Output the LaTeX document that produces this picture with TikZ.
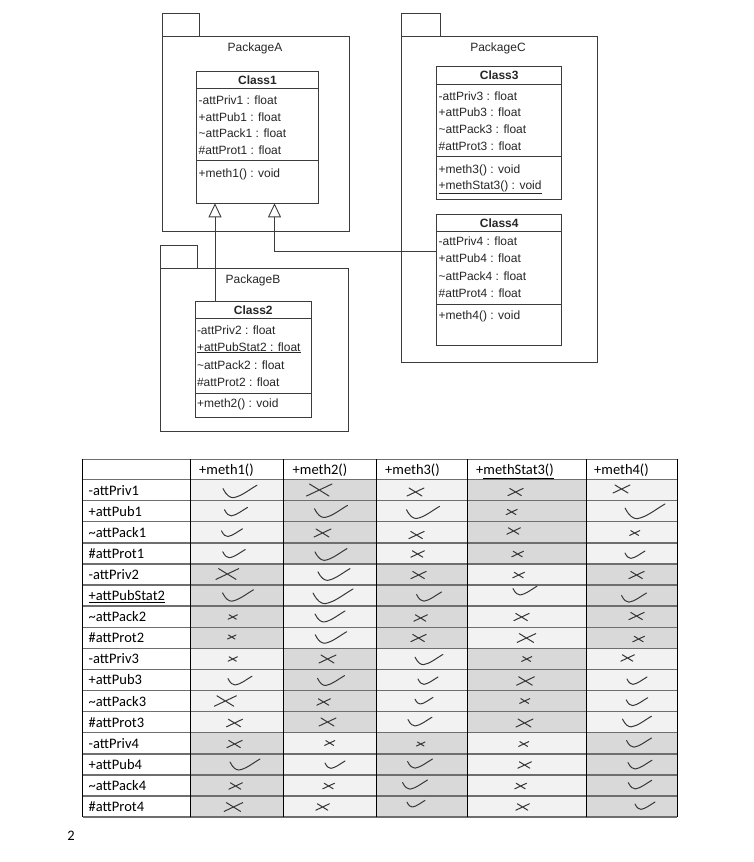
\documentclass[tikz,border=0pt]{standalone}
\usepackage{fontspec}
\setmainfont{Carlito}
\newfontfamily\umlfont{Liberation Sans}
\usetikzlibrary{arrows.meta}

\definecolor{umlline}{RGB}{60,60,60}
\definecolor{cellA}{RGB}{242,242,242}
\definecolor{cellB}{RGB}{217,217,217}
\definecolor{rulegray}{RGB}{110,110,110}
\definecolor{pen}{RGB}{55,55,55}

\tikzset{
  pkgbox/.style={draw=umlline, line width=0.9pt, inner sep=0pt, outer sep=0pt},
  classbox/.style={draw=umlline, line width=0.9pt, inner sep=0pt, outer sep=0pt},
  sepline/.style={draw=umlline, line width=0.9pt},
  umltext/.style={font=\umlfont\fontsize{12}{14}\selectfont, inner sep=0pt, text=black!85},
  attr/.style={umltext, anchor=base west},
  cname/.style={umltext, font=\umlfont\bfseries\fontsize{12}{14}\selectfont, anchor=base},
  pname/.style={umltext, anchor=base},
  gen/.style={draw=umlline, line width=0.9pt,
    -{Triangle[open, length=14pt, width=13pt, fill=white]}},
  tabtext/.style={font=\fontsize{14.5}{17}\selectfont, inner sep=0pt, anchor=base west},
  hrule/.style={draw=rulegray, line width=1.4pt},
  vrule/.style={draw=black, line width=0.9pt},
  mk/.style={draw=pen, line width=1pt, line cap=round, line join=round},
  ck/.pic={\draw[mk] (-15,-3) .. controls (-12,3) and (-9,5) .. (-6,5)
            .. controls (1,4) and (8,-2) .. (15,-6);},
  xx/.pic={\draw[mk] (-7,-4) -- (6,4) (-9,4) -- (8,-4);}
}

\begin{document}
\begin{tikzpicture}[x=1pt, y=-1pt]
\useasboundingbox (0,0) rectangle (753,862);

% ---------- packages ----------
\node[pkgbox, minimum width=187.5pt, minimum height=194.8pt, anchor=north west] (pkgA) at (162,36.7) {};
\node[pkgbox, minimum width=37.5pt, minimum height=23.4pt, anchor=south west] (tabA) at (pkgA.north west) {};
\node[pname] (lblA) at (255,51) {PackageA};

\node[pkgbox, minimum width=188.3pt, minimum height=163.4pt, anchor=north west] (pkgB) at (160,268.3) {};
\node[pkgbox, minimum width=37.7pt, minimum height=23.3pt, anchor=south west] (tabB) at (pkgB.north west) {};
\node[pname] (lblB) at (253,283) {PackageB};

\node[pkgbox, minimum width=196.3pt, minimum height=325.3pt, anchor=north west] (pkgC) at (401,36.7) {};
\node[pkgbox, minimum width=39pt, minimum height=23.4pt, anchor=south west] (tabC) at (pkgC.north west) {};
\node[pname] (lblC) at (498,51.5) {PackageC};

% ---------- Class1 ----------
\node[classbox, fill=white, minimum width=121.6pt, minimum height=132.3pt, anchor=north west] (c1) at (196.7,71) {};
\node[cname] (c1n) at (257.5,84) {Class1};
\draw[sepline] (c1.west |- 0,88) -- (c1.east |- 0,88);
\node[attr] (c1a) at (198.5,104.3) {-attPriv1 : float};
\node[attr] (c1b) at (198.5,121) {+attPub1 : float};
\node[attr] (c1c) at (198.5,137.7) {\textasciitilde attPack1 : float};
\node[attr] (c1d) at (198.5,154.4) {\#attProt1 : float};
\draw[sepline] (c1.west |- 0,160) -- (c1.east |- 0,160);
\node[attr] (c1m) at (198.5,177.5) {+meth1() : void};

% ---------- Class2 ----------
\node[classbox, fill=white, minimum width=116.7pt, minimum height=115.3pt, anchor=north west] (c2) at (195,301.7) {};
\node[cname] (c2n) at (253.3,314.3) {Class2};
\draw[sepline] (c2.west |- 0,318.3) -- (c2.east |- 0,318.3);
\node[attr] (c2a) at (196.8,334.3) {-attPriv2 : float};
\node[attr] (c2b) at (196.8,351) {\underline{+attPubStat2 : float}};
\node[attr] (c2c) at (196.8,369.3) {\textasciitilde attPack2 : float};
\node[attr] (c2d) at (196.8,386) {\#attProt2 : float};
\draw[sepline] (c2.west |- 0,393.3) -- (c2.east |- 0,393.3);
\node[attr] (c2m) at (196.8,407.6) {+meth2() : void};

% ---------- Class3 ----------
\node[classbox, fill=white, minimum width=125pt, minimum height=133.3pt, anchor=north west] (c3) at (436.7,66) {};
\node[cname] (c3n) at (499.2,79.3) {Class3};
\draw[sepline] (c3.west |- 0,84) -- (c3.east |- 0,84);
\node[attr] (c3a) at (438.5,100.3) {-attPriv3 : float};
\node[attr] (c3b) at (438.5,116.6) {+attPub3 : float};
\node[attr] (c3c) at (438.5,133.3) {\textasciitilde attPack3 : float};
\node[attr] (c3d) at (438.5,150.3) {\#attProt3 : float};
\draw[sepline] (c3.west |- 0,156.7) -- (c3.east |- 0,156.7);
\node[attr] (c3m) at (438.5,173.6) {+meth3() : void};
\node[attr] (c3s) at (438.5,189.6) {\underline{+methStat3() : void}};

% ---------- Class4 ----------
\node[classbox, fill=white, minimum width=125pt, minimum height=131pt, anchor=north west] (c4) at (436.7,214) {};
\node[cname] (c4n) at (499.2,227) {Class4};
\draw[sepline] (c4.west |- 0,231.7) -- (c4.east |- 0,231.7);
\node[attr] (c4a) at (438.5,245.3) {-attPriv4 : float};
\node[attr] (c4b) at (438.5,262.6) {+attPub4 : float};
\node[attr] (c4c) at (438.5,280) {\textasciitilde attPack4 : float};
\node[attr] (c4d) at (438.5,297.6) {\#attProt4 : float};
\draw[sepline] (c4.west |- 0,304) -- (c4.east |- 0,304);
\node[attr] (c4m) at (438.5,319.5) {+meth4() : void};

% ---------- generalisations ----------
\coordinate (h1) at (215,203.3);
\coordinate (h2) at (274.5,203.3);
\coordinate (k4) at (436.7,251.7);
\draw[gen] (c2.north -| h1) -- (h1);
\draw[gen] (k4) -| (h2);

% ---------- table: cell shading ----------
\foreach \xa/\xb [count=\j from 0] in {190/283.3, 283.3/376.7, 376.7/467.7, 467.7/586, 586/677.3}{
  \foreach \b in {0,1,2,3}{
    \pgfmathtruncatemacro{\shd}{mod(\b+\j,2)}
    \pgfmathsetmacro{\ya}{479.5+84.4*\b}
    \pgfmathsetmacro{\yb}{\ya+84.4}
    \ifnum\shd=1
      \fill[cellB] (\xa,\ya) rectangle (\xb,\yb);
    \else
      \fill[cellA] (\xa,\ya) rectangle (\xb,\yb);
    \fi
  }
}

% ---------- table: rules ----------
\draw[hrule] (82.7,459.3) -- (677.3,459.3);
\foreach \r in {0,...,16}{
  \draw[hrule] (82.7,479.5+21.1*\r) -- (677.3,479.5+21.1*\r);
}
\foreach \x in {82.7,190,283.3,376.7,467.7,586,677.3}{
  \draw[vrule] (\x,459.3) -- (\x,817.1);
}

% ---------- table: header ----------
\node[tabtext] (hm1) at (199,474.5) {+meth1()};
\node[tabtext] (hm2) at (292.5,474.5) {+meth2()};
\node[tabtext] (hm3) at (385,474.5) {+meth3()};
\node[tabtext] (hm4) at (476,474.5) {+\underline{methStat3()}};
\node[tabtext] (hm5) at (594,474.5) {+meth4()};

% ---------- table: row labels ----------
\foreach \t [count=\i] in {-attPriv1, +attPub1, \textasciitilde attPack1, \#attProt1,
  -attPriv2, \underline{+attPubStat2}, \textasciitilde attPack2, \#attProt2,
  -attPriv3, +attPub3, \textasciitilde attPack3, \#attProt3,
  -attPriv4, +attPub4, \textasciitilde attPack4, \#attProt4}{
  \node[tabtext] (row\i) at (88.5,479.5+21.1*\i-10.55+5) {\t};
}

% ---------- ticks ----------
\foreach \px/\py/\ps in {
  240/492/1.13,
  236/512/0.77, 331/512/1.1, 423/513/1.1, 645/512/1.33,
  232/533/0.7,
  234/554/0.75, 331/555/1.07, 635/555/0.67,
  334/575/1.07,
  238/596/1.03, 333/597/1.33, 429/597/0.83, 525/591/0.8, 634/598/0.83,
  330/617/1.0,
  331/638/1.05,
  429/660/0.93,
  240/681/0.8, 331/681/0.9, 428/681/0.67, 637/681/0.67,
  424/701/0.6, 637/702/0.72,
  420/722/0.8, 637/722/0.97,
  639/743/0.83,
  245/765/1.0, 335/765/0.67, 420/764/0.83, 640/765/0.8,
  415/785/0.83, 640/785/0.78,
  416/804/0.6, 645/806/0.67}{
  \pic[scale=\ps] at (\px,\py) {ck};
}

% ---------- crosses ----------
\foreach \px/\py/\ps in {
  320/490/1.5, 416/492/1.0, 516/492/0.9, 622/489/1.0,
  512/512/0.65,
  323/533/1.0, 417/535/0.9, 514/531/0.8, 635/533/0.6,
  418/554/0.8, 518/554/0.7,
  228/574/1.35, 419/575/0.9, 519/575/0.7, 637/575/0.9,
  233/617/0.55, 421/618/0.8, 522/617/0.9, 637/616/0.9,
  232/637/0.5, 419/638/0.9, 527/638/1.1, 639/639/0.7,
  233/659/0.55, 328/659/1.0, 527/659/0.6, 628/658/0.8,
  526/681/1.05,
  226/701/1.3, 324/702/0.8, 525/701/0.6,
  235/723/0.95, 328/722/1.0, 525/723/1.0,
  235/744/0.9, 330/743/0.6, 421/744/0.5, 524/744/0.6,
  525/765/0.8,
  236/786/0.8, 329/786/0.7, 521/786/0.7,
  234/807/1.1, 323/807/0.8, 523/807/0.8}{
  \pic[scale=\ps] at (\px,\py) {xx};
}

% ---------- page number ----------
\node[font=\fontsize{14.5}{17}\selectfont, inner sep=0pt] (pageno) at (71,836) {2};
\end{tikzpicture}
\end{document}
